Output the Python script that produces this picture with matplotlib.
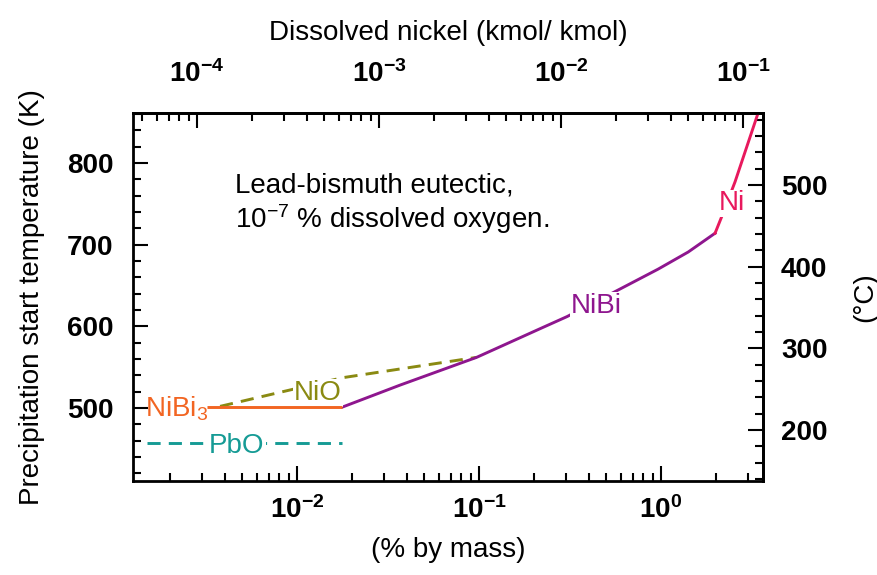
import matplotlib
matplotlib.use("Agg")
import matplotlib.pyplot as plt
from matplotlib.ticker import LogLocator, MultipleLocator, FuncFormatter, NullFormatter, FixedLocator
import numpy as np

plt.rcParams['font.family'] = ['Liberation Sans', 'DejaVu Sans']
plt.rcParams['mathtext.fontset'] = 'custom'
plt.rcParams['mathtext.rm'] = 'Liberation Sans'
plt.rcParams['mathtext.it'] = 'Liberation Sans:italic'
plt.rcParams['mathtext.bf'] = 'Liberation Sans:bold'

# ---- data (mass % Ni, temperature K) ----
nibi3_w = [0.0032, 0.0177]
nibi3_T = [501, 501]

nio_w = [0.00378, 0.0177, 0.097]
nio_T = [502, 537, 562]

pbo_w = [0.0015, 0.0177]
pbo_T = [457, 457]

nibi_w = [0.0177, 0.0368, 0.097, 0.216, 0.305, 0.611, 0.963, 1.41, 1.98]
nibi_T = [501, 528, 562, 597, 612, 647, 670, 691, 714]

ni_w = [1.98, 2.16, 2.55, 3.41, 3.5]
ni_T = [714, 735, 777, 861, 870]

bottom_ticks = [1e-2, 1e-1, 1e0]
top_ticks = [1e-4, 1e-3, 1e-2, 1e-1]
left_ticks = [500, 600, 700, 800]
right_ticks = [200, 300, 400, 500]

# ---- conversions ----
MASS_TO_MOLE = 0.03547  # mole fraction per mass %
K0 = 273.15

c_nibi3 = '#f26522'
c_nio = '#8a8a12'
c_pbo = '#159b95'
c_nibi = '#8e168e'
c_ni = '#e8195d'

FS = 20

fig = plt.figure(figsize=(8.77, 5.75), dpi=100)
ax = fig.add_axes([133/877, 1-481/575, 630/877, 368/575])

ax.set_xscale('log')
ax.set_xlim(10**-2.901, 10**0.560)
ax.set_ylim(410.6, 861.2)

lw = 2.1
ax.plot(pbo_w, pbo_T, color=c_pbo, lw=lw, dashes=(4.5, 2.8))
ax.plot(nio_w, nio_T, color=c_nio, lw=lw, dashes=(4.5, 2.8))
ax.plot(nibi3_w, nibi3_T, color=c_nibi3, lw=lw, solid_capstyle='butt', zorder=5)
ax.plot(nibi_w, nibi_T, color=c_nibi, lw=lw)
ax.plot(ni_w, ni_T, color=c_ni, lw=lw)

bb = dict(facecolor='white', edgecolor='none', pad=0.5)
ax.text(0.00146, 489, 'NiBi$_3$', color=c_nibi3, fontsize=FS, ha='left', va='baseline')
ax.text(0.0130, 510, 'NiO', color=c_nio, fontsize=FS, ha='center', va='baseline', bbox=bb)
ax.text(0.00468, 445, 'PbO', color=c_pbo, fontsize=FS, ha='center', va='baseline', bbox=bb)
ax.text(0.44, 616, 'NiBi', color=c_nibi, fontsize=FS, ha='center', va='baseline', bbox=bb)
ax.text(2.46, 742, 'Ni', color=c_ni, fontsize=FS, ha='center', va='baseline', bbox=bb)

ax.text(0.162, 0.783, 'Lead-bismuth eutectic,', transform=ax.transAxes,
        fontsize=FS, ha='left', va='baseline')
ax.text(0.162, 0.6875, '10$^{\u22127}$ % dissolved oxygen.', transform=ax.transAxes,
        fontsize=FS, ha='left', va='baseline')

def logfmt(v, pos):
    e = int(round(np.log10(v)))
    return r'$\mathbf{10^{%d}}$' % e

# bottom axis
ax.xaxis.set_major_locator(FixedLocator(bottom_ticks))
ax.xaxis.set_minor_locator(LogLocator(base=10, subs=np.arange(2, 10), numticks=20))
ax.xaxis.set_major_formatter(FuncFormatter(logfmt))
ax.xaxis.set_minor_formatter(NullFormatter())

ax.yaxis.set_major_locator(FixedLocator(left_ticks))
ax.yaxis.set_minor_locator(MultipleLocator(20))

tick_kw = dict(direction='in', width=1.5, color='black')
ax.tick_params(axis='both', which='major', length=11, **tick_kw)
ax.tick_params(axis='both', which='minor', length=5.5, **tick_kw)
ax.tick_params(axis='x', which='major', pad=11, labelsize=FS)
ax.tick_params(axis='y', which='major', pad=14, labelsize=FS)
for lab in ax.get_yticklabels():
    lab.set_fontweight('bold')

for s in ax.spines.values():
    s.set_linewidth(2)

ax.set_xlabel('(% by mass)', fontsize=FS)
ax.xaxis.set_label_coords(0.5, -0.152)
ax.set_ylabel('Precipitation start temperature (K)', fontsize=FS)
ax.yaxis.set_label_coords(-0.1397, 0.5)

# top axis: mole fraction
top = ax.secondary_xaxis('top', functions=(lambda w: w * MASS_TO_MOLE, lambda x: x / MASS_TO_MOLE))
top.xaxis.set_major_locator(FixedLocator(top_ticks))
top.xaxis.set_minor_locator(LogLocator(base=10, subs=np.arange(2, 10), numticks=20))
top.xaxis.set_major_formatter(FuncFormatter(logfmt))
top.xaxis.set_minor_formatter(NullFormatter())
top.tick_params(axis='x', which='major', length=11, pad=18, labelsize=FS, **tick_kw)
top.tick_params(axis='x', which='minor', length=5.5, **tick_kw)
top.spines['top'].set_linewidth(2)
top.set_xlabel('Dissolved nickel (kmol/ kmol)', fontsize=FS)
top.xaxis.set_label_coords(0.5, 1.198, transform=ax.transAxes)

# right axis: Celsius
right = ax.secondary_yaxis('right', functions=(lambda k: k - K0, lambda c: c + K0))
right.yaxis.set_major_locator(FixedLocator(right_ticks))
right.yaxis.set_minor_locator(MultipleLocator(20))
right.tick_params(axis='y', which='major', length=11, pad=13, labelsize=FS, **tick_kw)
right.tick_params(axis='y', which='minor', length=5.5, **tick_kw)
right.spines['right'].set_linewidth(2)
for lab in right.get_yticklabels():
    lab.set_fontweight('bold')
right.set_ylabel('(\u00b0C)', fontsize=FS)
right.yaxis.set_label_coords(1.141, 0.5, transform=ax.transAxes)

fig.savefig('out.png', dpi=100)
